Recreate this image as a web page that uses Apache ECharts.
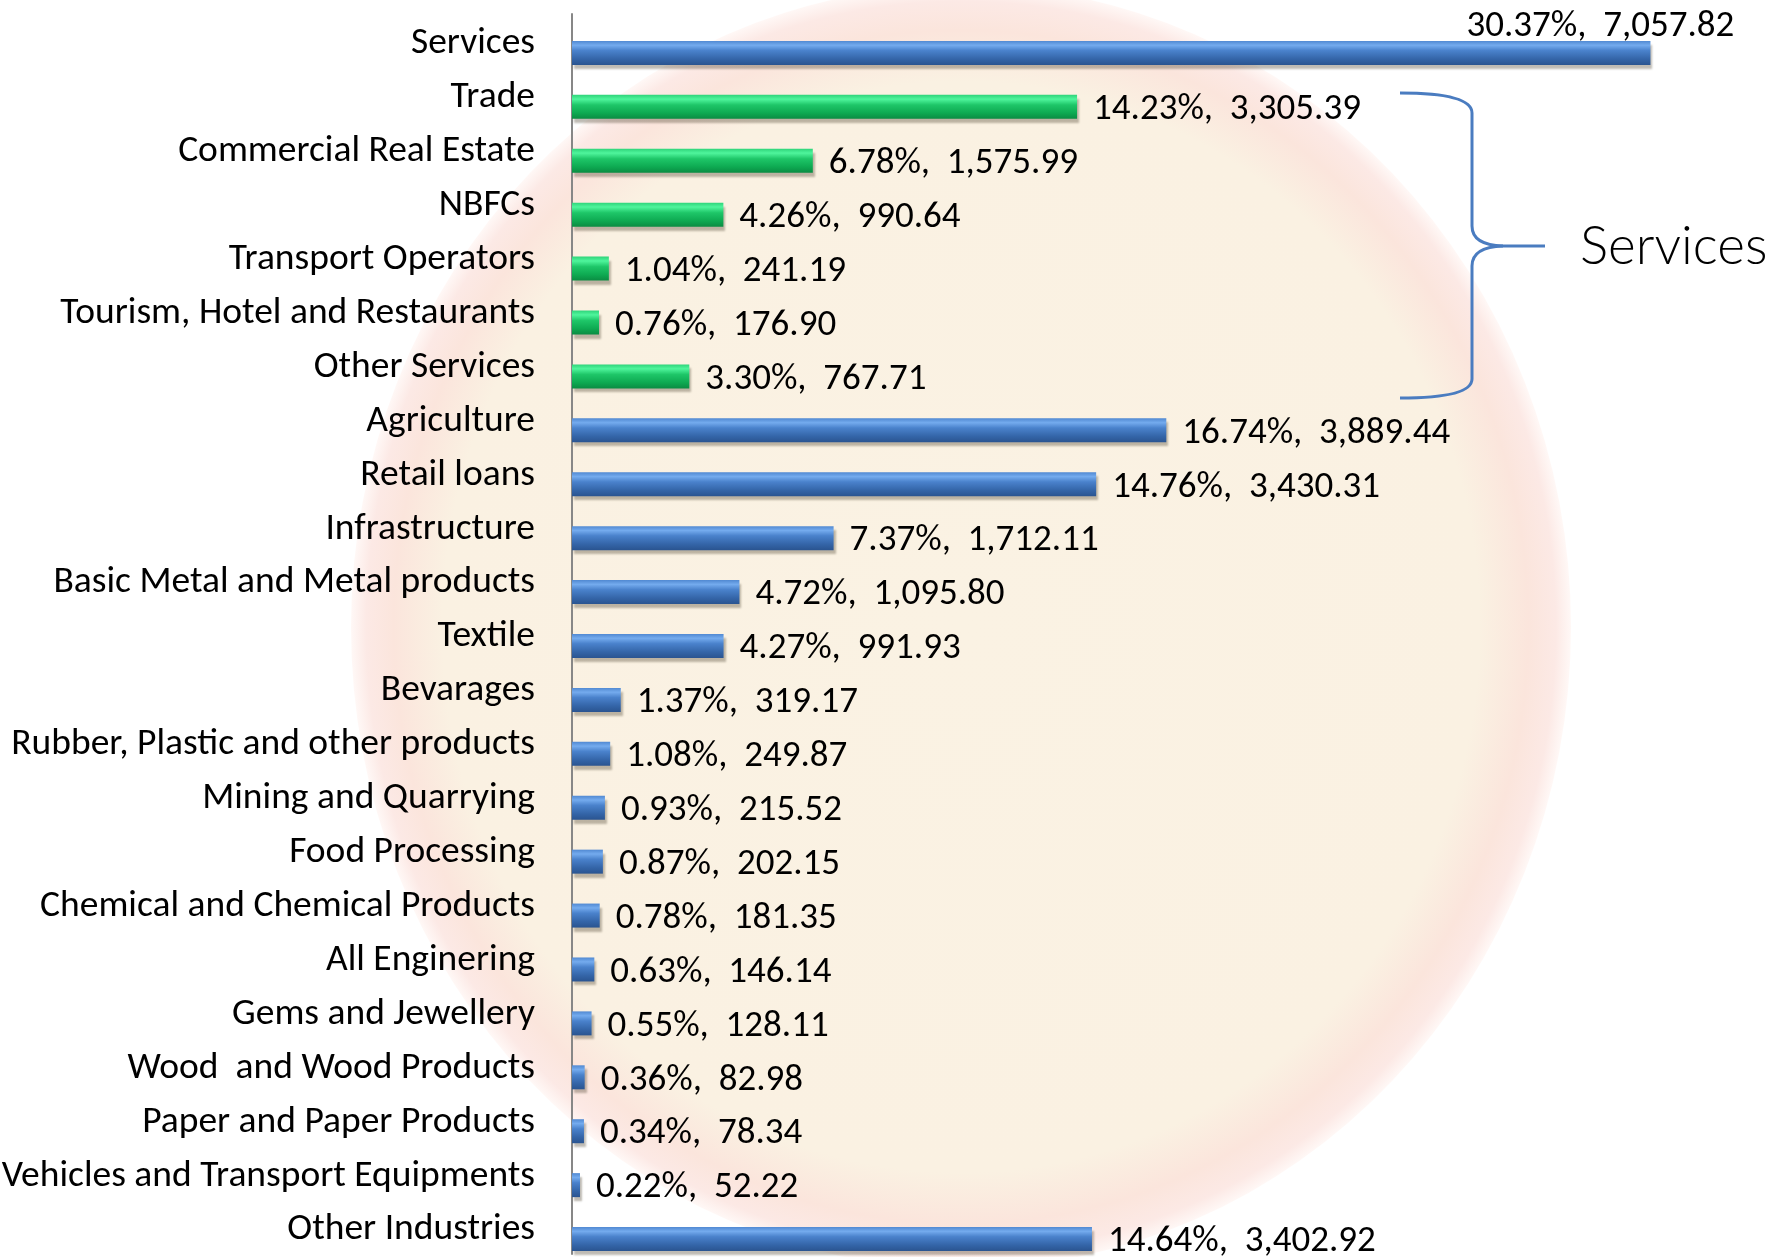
<!DOCTYPE html>
<html>
<head>
<meta charset="utf-8">
<script src="https://cdn.jsdelivr.net/npm/echarts/dist/echarts.min.js"></script>
<style>
  html, body { margin: 0; padding: 0; background: #fff; }
  #chart { width: 1772px; height: 1257px; }
</style>
</head>
<body>
<div id="chart"></div>
<script>
const categories = [
  'Services', 'Trade', 'Commercial Real Estate', 'NBFCs', 'Transport Operators',
  'Tourism, Hotel and Restaurants', 'Other Services', 'Agriculture', 'Retail loans',
  'Infrastructure', 'Basic Metal and Metal products', 'Textile', 'Bevarages',
  'Rubber, Plastic and other products', 'Mining and Quarrying', 'Food Processing',
  'Chemical and Chemical Products', 'All Enginering', 'Gems and Jewellery',
  'Wood  and Wood Products', 'Paper and Paper Products',
  'Vehicles and Transport Equipments', 'Other Industries'
];
const amounts = [
  7057.82, 3305.39, 1575.99, 990.64, 241.19, 176.90, 767.71, 3889.44, 3430.31,
  1712.11, 1095.80, 991.93, 319.17, 249.87, 215.52, 202.15, 181.35, 146.14,
  128.11, 82.98, 78.34, 52.22, 3402.92
];
const shares = [
  30.37, 14.23, 6.78, 4.26, 1.04, 0.76, 3.30, 16.74, 14.76, 7.37, 4.72, 4.27,
  1.37, 1.08, 0.93, 0.87, 0.78, 0.63, 0.55, 0.36, 0.34, 0.22, 14.64
];
const serviceParts = [
  'Trade', 'Commercial Real Estate', 'NBFCs', 'Transport Operators',
  'Tourism, Hotel and Restaurants', 'Other Services'
];
const bracketLabel = 'Services';

const FONT = 'Carlito, Calibri, Lato, sans-serif';

function vGradient(stops) {
  return {
    type: 'linear', x: 0, y: 0, x2: 0, y2: 1,
    colorStops: stops.map(s => ({ offset: s[0], color: s[1] }))
  };
}
const blueBar = vGradient([
  [0, '#5189d2'], [0.18, '#74abee'], [0.4, '#4a82cc'], [0.75, '#3465a8'], [1, '#2a5490']
]);
const greenBar = vGradient([
  [0, '#2fd47a'], [0.18, '#4ff59c'], [0.42, '#1ec668'], [0.75, '#0eaa52'], [1, '#0a8c42']
]);

function fmt(v) {
  return v.toLocaleString('en-US', { minimumFractionDigits: 2, maximumFractionDigits: 2 });
}

// brace pieces (annotation only)
const braceStyle = { stroke: '#4a7cc0', lineWidth: 3, fill: null };
function curve(x1, y1, cx, cy, x2, y2) {
  return { type: 'bezierCurve', silent: true, z: 10, style: braceStyle,
           shape: { x1: x1, y1: y1, cpx1: cx, cpy1: cy, x2: x2, y2: y2 } };
}
function seg(x1, y1, x2, y2) {
  return { type: 'line', silent: true, z: 10, style: braceStyle,
           shape: { x1: x1, y1: y1, x2: x2, y2: y2 } };
}

const chart = echarts.init(document.getElementById('chart'));

chart.setOption({
  backgroundColor: '#ffffff',
  animation: false,
  grid: {
    left: 572, top: 14, right: 54, bottom: 3,
    containLabel: false,
    outerBoundsMode: 'none'
  },
  xAxis: {
    type: 'value',
    min: 0,
    max: 7500,
    show: false
  },
  yAxis: {
    type: 'category',
    data: categories,
    inverse: true,
    axisLine: { lineStyle: { color: '#878787', width: 2 } },
    axisTick: { length: 12, interval: 0, lineStyle: { color: '#878787', width: 2 } },
    axisLabel: {
      interval: 0,
      margin: 37,
      formatter: v => '{t|' + v + '}',
      rich: {
        t: {
          fontFamily: FONT,
          fontSize: 37.5,
          color: '#000',
          padding: [6, 0, 0, 0]
        }
      }
    }
  },
  graphic: [
    {
      // faded oval watermark behind the plot
      type: 'circle',
      z: -10,
      silent: true,
      x: 961,
      y: 627,
      scaleY: 1.052,
      shape: { cx: 0, cy: 0, r: 610 },
      style: {
        fill: {
          type: 'radial', x: 0.5, y: 0.5, r: 0.5,
          colorStops: [
            { offset: 0, color: '#faf2e3' },
            { offset: 0.85, color: '#faf1e2' },
            { offset: 0.93, color: '#fbe5dc' },
            { offset: 0.975, color: '#fce9e5' },
            { offset: 1, color: '#fff8f6' }
          ]
        }
      }
    },
    curve(1400, 93, 1472, 93, 1472, 113),
    seg(1472, 113, 1472, 226),
    curve(1472, 226, 1472, 245, 1503, 246),
    seg(1503, 246, 1545, 246),
    curve(1472, 266, 1472, 247, 1503, 246),
    seg(1472, 266, 1472, 379),
    curve(1472, 379, 1472, 398, 1400, 398),
    {
      type: 'text',
      silent: true,
      z: 10,
      style: {
        x: 1580,
        y: 247,
        verticalAlign: 'middle',
        text: bracketLabel,
        fontFamily: 'Lato, sans-serif',
        fontWeight: 300,
        fontSize: 53,
        fill: '#000'
      }
    }
  ],
  series: [
    {
      // empty slot so the real bars sit in the lower half of each band
      type: 'bar',
      name: 'slot',
      silent: true,
      barWidth: 24,
      barGap: '0%',
      data: categories.map(() => null)
    },
    {
      type: 'bar',
      name: 'Advances',
      barWidth: 24,
      barGap: '0%',
      itemStyle: {
        shadowColor: 'rgba(70,60,40,0.35)',
        shadowBlur: 2,
        shadowOffsetX: 2,
        shadowOffsetY: 4
      },
      label: {
        show: true,
        position: 'right',
        distance: 16,
        offset: [0, 3],
        fontFamily: FONT,
        fontSize: 37,
        color: '#000',
        formatter: p => shares[p.dataIndex].toFixed(2) + '%,  ' + fmt(amounts[p.dataIndex])
      },
      data: amounts.map((v, i) => {
        const item = {
          value: v,
          itemStyle: { color: serviceParts.includes(categories[i]) ? greenBar : blueBar }
        };
        if (i === 0) item.label = { offset: [-200, -26] };
        return item;
      })
    }
  ]
});
</script>
</body>
</html>
